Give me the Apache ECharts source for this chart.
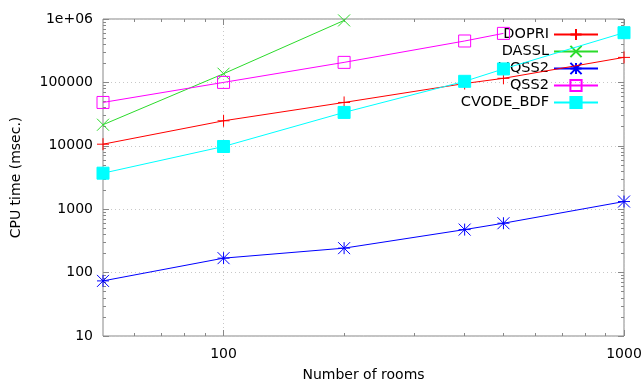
<!DOCTYPE html>
<html><head><meta charset="utf-8">
<script src="https://cdn.jsdelivr.net/npm/echarts@6/dist/echarts.min.js"></script>
<style>html,body{margin:0;padding:0;background:#fff}#c{width:643px;height:382px}</style>
</head><body><div id="c"></div>
<script>
// ---- data ----
const rooms    = [50, 100, 200, 400, 500, 1000];
const dopri    = [10600, 24800, 48300, 96000, 116000, 248000];
const dasslX   = [50, 100, 200];
const dassl    = [21500, 137000, 950000];
const liqss2   = [74, 169, 243, 477, 601, 1320];
const qss2X    = [50, 100, 200, 400, 500];
const qss2     = [48300, 100000, 207000, 450000, 593000];
const cvode    = [3700, 9750, 33600, 104000, 163000, 608000];
const xTickLabels = ['100', '1000'];
const yTickLabels = ['10', '100', '1000', '10000', '100000', '1e+06'];
const xMinor = [60, 70, 80, 90, 200, 300, 400, 500, 600, 700, 800, 900];
const yMinor = [];
[10, 100, 1000, 10000, 100000].forEach(d => { for (let k = 2; k <= 9; k++) yMinor.push(k * d); });

const FONT = 'DejaVu Sans';
const AX = '#888';
const pair = (xs, ys) => xs.map((x, i) => [x, ys[i]]);

const SYM_PLUS = 'path://M0,5L10,5M5,0L5,10';
const SYM_X = 'path://M0,0L10,10M10,0L0,10';
const SYM_STAR = 'path://M0,5L10,5M5,0L5,10M0,0L10,10M10,0L0,10';
const SYM_BOX = 'path://M0,0L10,0L10,10L0,10Z';

function mk(name, data, color, symbol, filled) {
  return {
    name, type: 'line', data, symbol, symbolSize: 12, z: 3,
    lineStyle: { color, width: 1 },
    itemStyle: filled ? { color, borderColor: color, borderWidth: 1 }
                      : { color: symbol === SYM_BOX ? 'rgba(255,255,255,0)' : color, borderColor: color, borderWidth: 1 },
    emphasis: { disabled: true }
  };
}

function xax(extra) {
  return Object.assign({
    type: 'log', logBase: 10, min: 50, max: 1000, gridIndex: 0,
    axisLine: { show: false, onZero: false },
    axisLabel: { show: false }, splitLine: { show: false }
  }, extra);
}
function yax(extra) {
  return Object.assign({
    type: 'log', logBase: 10, min: 10, max: 1000000, gridIndex: 0,
    axisLine: { show: false, onZero: false },
    axisLabel: { show: false }, splitLine: { show: false }
  }, extra);
}
const grayDot = { color: '#c8c8c8', type: [1, 3], width: 1 };

const chart = echarts.init(document.getElementById('c'), null, { renderer: 'canvas' });
chart.setOption({
  animation: false,
  backgroundColor: '#fff',
  textStyle: { fontFamily: FONT },
  grid: { left: 103, right: 19, top: 19, bottom: 46, containLabel: false, outerBoundsMode: 'none',
          show: true, borderColor: AX, borderWidth: 1, backgroundColor: 'transparent' },
  legend: {
    orient: 'vertical', right: 39, top: 22, align: 'right', z: 1,
    itemWidth: 44, itemHeight: 14, itemGap: 2,
    textStyle: { fontFamily: FONT, fontSize: 14.5, color: '#000' },
    data: ['DOPRI', 'DASSL', 'LIQSS2', 'QSS2', 'CVODE_BDF']
  },
  xAxis: [
    xax({
      position: 'bottom', name: 'Number of rooms', nameLocation: 'middle', nameGap: 32,
      nameTextStyle: { fontFamily: FONT, fontSize: 14, color: '#000' },
      axisTick: { show: true, inside: true, length: 6, lineStyle: { color: AX } , customValues: [100, 1000]},
      axisLabel: { show: true, margin: 11, fontFamily: FONT, fontSize: 14, color: '#000', customValues: [100, 1000],
        formatter: v => { const s = String(Math.round(v)); return xTickLabels.indexOf(s) >= 0 ? s : ''; } },
      splitLine: { show: true, lineStyle: grayDot }
    }),
    xax({ position: 'bottom', axisTick: { show: true, inside: true, length: 3, lineStyle: { color: AX }, customValues: xMinor } }),
    xax({ position: 'top', axisTick: { show: true, inside: true, length: 6, lineStyle: { color: AX }, customValues: [100, 1000] } }),
    xax({ position: 'top', axisTick: { show: true, inside: true, length: 3, lineStyle: { color: AX }, customValues: xMinor } })
  ],
  yAxis: [
    yax({
      position: 'left', name: 'CPU time (msec.)', nameLocation: 'middle', nameGap: 80,
      nameTextStyle: { fontFamily: FONT, fontSize: 14, color: '#000' },
      axisTick: { show: true, inside: true, length: 6, lineStyle: { color: AX } },
      axisLabel: { show: true, margin: 10, fontFamily: FONT, fontSize: 14, color: '#000',
        formatter: v => { const r = Math.round(v); const s = r >= 1000000 ? '1e+06' : String(r); return yTickLabels.indexOf(s) >= 0 ? s : ''; } },
      splitLine: { show: true, lineStyle: grayDot }
    }),
    yax({ position: 'left', axisTick: { show: true, inside: true, length: 3, lineStyle: { color: AX }, customValues: yMinor } }),
    yax({ position: 'right', axisTick: { show: true, inside: true, length: 6, lineStyle: { color: AX } } }),
    yax({ position: 'right', axisTick: { show: true, inside: true, length: 3, lineStyle: { color: AX }, customValues: yMinor } })
  ],
  series: [
    mk('DOPRI', pair(rooms, dopri), '#ff0000', SYM_PLUS, false),
    mk('DASSL', pair(dasslX, dassl), '#2bdb2b', SYM_X, false),
    mk('LIQSS2', pair(rooms, liqss2), '#0000ff', SYM_STAR, false),
    mk('QSS2', pair(qss2X, qss2), '#ff00ff', SYM_BOX, false),
    mk('CVODE_BDF', pair(rooms, cvode), '#00ffff', 'rect', true)
  ]
});
</script></body></html>
